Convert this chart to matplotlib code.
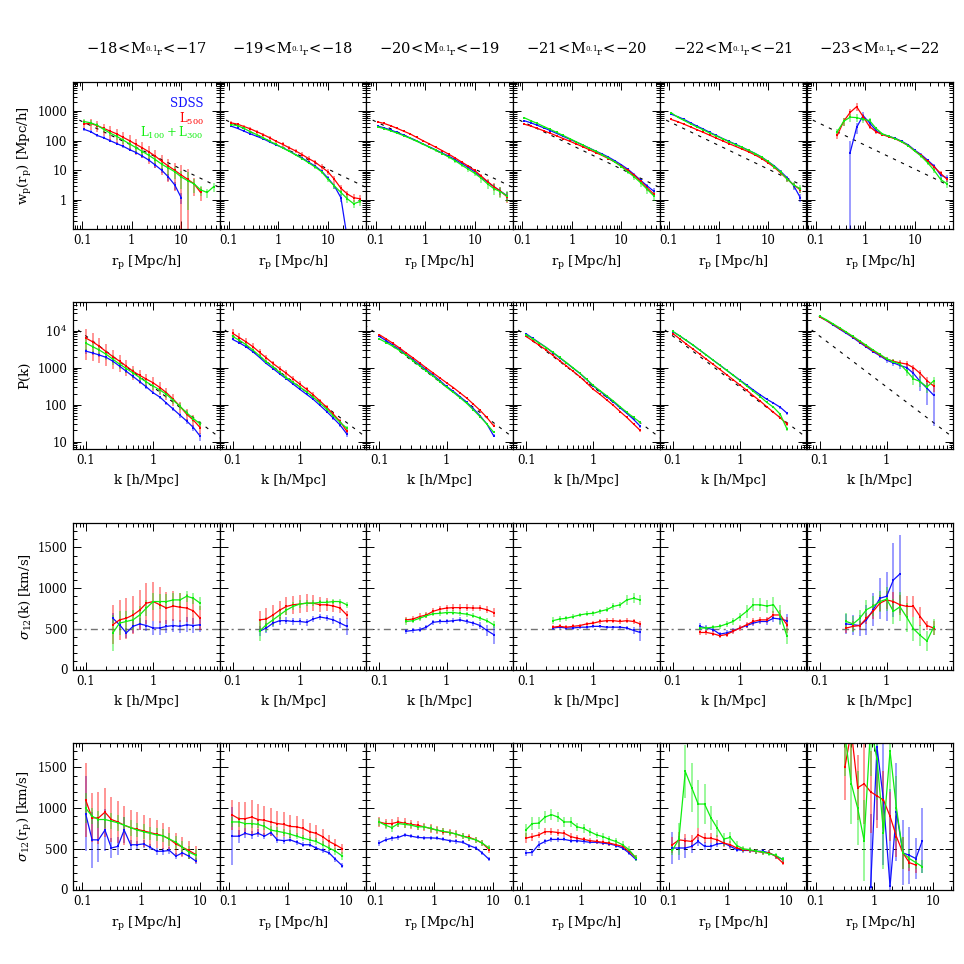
import numpy as np
import matplotlib
matplotlib.use('Agg')
import matplotlib.pyplot as plt
from matplotlib.ticker import FuncFormatter, MultipleLocator, NullFormatter, LogLocator

nan = np.nan

# magnitude bins (one column each)
mag_bins = [(18, 17), (19, 18), (20, 19), (21, 20), (22, 21), (23, 22)]
series_names = ['SDSS', r'$\mathrm{L_{500}}$', r'$\mathrm{L_{100}+L_{300}}$']
series_colors = ['#1010ff', '#ff0000', '#10ee10']

# ---------------- row 1: w_p(r_p) ----------------
rp_w = [0.11, 0.149, 0.201, 0.272, 0.367, 0.496, 0.67, 0.905, 1.22, 1.65, 2.23,
        3.01, 4.07, 5.5, 7.43, 10.0, 13.5, 18.3, 24.7, 33.3, 45.0]

wp_sdss = [
    [240, 200, 150, 125, 100, 80, 65, 50, 40, 30, 22, 15, 10, 6, 3.2, 1.2, nan, nan, nan, nan, nan],
    [310, 260, 210, 170, 140, 115, 90, 72, 58, 45, 34, 26, 19, 14, 9.5, 5.5, 3.0, 1.2, 0.05, nan, nan],
    [310, 270, 230, 190, 155, 125, 100, 78, 62, 49, 38, 30, 23, 17, 12.5, 9, 6, 4, 2.8, 2.0, 1.4],
    [470, 400, 330, 270, 220, 175, 140, 112, 90, 72, 57, 45, 36, 28, 21, 15.5, 11, 7.2, 4.6, 3.0, 2.0],
    [780, 650, 520, 400, 310, 245, 190, 150, 118, 94, 75, 60, 47, 37, 28, 20, 14, 9, 5.5, 3.0, 1.2],
    [nan, nan, nan, nan, nan, 40, 280, 700, 400, 220, 165, 140, 120, 95, 72, 48, 34, 22, 14, 7, 5.5],
]
wp_sdss_rel = [
    [0.1, 0.12, 0.12, 0.12, 0.12, 0.12, 0.13, 0.13, 0.14, 0.15, 0.16, 0.18, 0.2, 0.25, 0.3, 0.4, nan, nan, nan, nan, nan],
    [0.04, 0.04, 0.04, 0.05, 0.05, 0.05, 0.05, 0.06, 0.06, 0.06, 0.07, 0.07, 0.08, 0.09, 0.1, 0.15, 0.2, 0.3, 0.5, nan, nan],
    [0.03, 0.03, 0.03, 0.03, 0.04, 0.04, 0.04, 0.04, 0.05, 0.05, 0.05, 0.06, 0.06, 0.07, 0.08, 0.1, 0.12, 0.15, 0.2, 0.25, 0.3],
    [0.03, 0.03, 0.03, 0.03, 0.03, 0.04, 0.04, 0.04, 0.04, 0.05, 0.05, 0.05, 0.06, 0.06, 0.07, 0.08, 0.1, 0.12, 0.15, 0.2, 0.25],
    [0.04, 0.04, 0.04, 0.04, 0.04, 0.04, 0.05, 0.05, 0.05, 0.05, 0.05, 0.06, 0.06, 0.07, 0.08, 0.1, 0.12, 0.15, 0.2, 0.25, 0.3],
    [nan, nan, nan, nan, nan, 1.5, 0.4, 0.35, 0.3, 0.2, 0.12, 0.1, 0.08, 0.08, 0.08, 0.1, 0.1, 0.12, 0.15, 0.2, 0.25],
]
wp_l500 = [
    [370, 380, 320, 260, 210, 170, 130, 100, 75, 57, 42, 30, 20, 14, 10, 7, 5, 3.5, 1.8, nan, nan],
    [400, 360, 300, 250, 200, 160, 125, 95, 75, 58, 45, 34, 25, 19, 13, 9, 5, 2.5, 1.6, 1.2, 1.1],
    [430, 380, 320, 260, 210, 170, 130, 100, 78, 60, 46, 35, 26, 19, 14, 10, 6.5, 4.2, 2.8, 2.0, 1.3],
    [360, 310, 260, 215, 178, 145, 118, 96, 78, 63, 50, 40, 32, 25, 19, 14, 10, 6.8, 4.3, 2.6, 1.6],
    [520, 440, 360, 290, 235, 190, 152, 122, 98, 79, 64, 52, 42, 33, 25, 18, 12.5, 8, 5, 3.2, 2.2],
    [nan, nan, nan, 150, 450, 900, 1400, 650, 300, 200, 160, 135, 115, 90, 68, 45, 32, 20, 13, 8, 5],
]
wp_l500_rel = [
    [0.35, 0.4, 0.4, 0.45, 0.5, 0.5, 0.5, 0.5, 0.55, 0.55, 0.6, 0.6, 0.65, 0.7, 0.8, 1.1, 1.2, 0.6, 0.5, nan, nan],
    [0.12, 0.12, 0.13, 0.13, 0.14, 0.14, 0.15, 0.15, 0.16, 0.16, 0.17, 0.18, 0.2, 0.2, 0.22, 0.25, 0.3, 0.3, 0.3, 0.3, 0.3],
    [0.04, 0.04, 0.05, 0.05, 0.05, 0.05, 0.06, 0.06, 0.07, 0.07, 0.08, 0.08, 0.09, 0.1, 0.12, 0.15, 0.2, 0.25, 0.3, 0.35, 0.4],
    [0.04, 0.04, 0.04, 0.04, 0.04, 0.05, 0.05, 0.05, 0.05, 0.05, 0.06, 0.06, 0.06, 0.07, 0.08, 0.1, 0.12, 0.15, 0.18, 0.2, 0.22],
    [0.04, 0.04, 0.04, 0.04, 0.05, 0.05, 0.05, 0.05, 0.05, 0.05, 0.06, 0.06, 0.06, 0.07, 0.08, 0.1, 0.12, 0.15, 0.18, 0.2, 0.22],
    [nan, nan, nan, 0.25, 0.3, 0.3, 0.3, 0.25, 0.2, 0.15, 0.1, 0.08, 0.08, 0.08, 0.08, 0.1, 0.1, 0.12, 0.15, 0.18, 0.2],
]
wp_l100 = [
    [440, 400, 330, 240, 180, 140, 105, 78, 58, 43, 32, 23, 16, 12, 9, 6, 4.5, 3.5, 2.2, 1.8, 2.8],
    [350, 320, 260, 200, 160, 125, 95, 75, 57, 44, 33, 25, 18, 13, 9, 5, 3, 1.8, 1.1, 0.75, 0.9],
    [290, 255, 215, 180, 148, 120, 96, 76, 60, 47, 37, 28, 21, 15, 11, 8, 5.5, 3.5, 2.4, 1.9, 1.4],
    [590, 470, 380, 300, 240, 190, 150, 118, 92, 72, 56, 44, 34, 26, 19, 13.5, 9.0, 6.0, 3.8, 2.3, 1.4],
    [880, 620, 480, 370, 290, 230, 180, 145, 115, 92, 74, 59, 47, 37, 28, 20, 13.5, 8.5, 5, 3.2, 2.4],
    [nan, nan, nan, 200, 450, 620, 600, 520, 480, 260, 170, 140, 118, 92, 68, 45, 30, 18, 10, 5, 3.5],
]
wp_l100_rel = [
    [0.2, 0.2, 0.2, 0.2, 0.22, 0.22, 0.24, 0.25, 0.26, 0.28, 0.3, 0.32, 0.35, 0.4, 0.45, 0.6, 0.9, 0.5, 0.4, 0.35, 0.35],
    [0.06, 0.06, 0.06, 0.07, 0.07, 0.07, 0.08, 0.08, 0.08, 0.09, 0.1, 0.1, 0.11, 0.12, 0.14, 0.16, 0.2, 0.25, 0.3, 0.3, 0.3],
    [0.04, 0.04, 0.05, 0.05, 0.05, 0.06, 0.06, 0.07, 0.08, 0.09, 0.1, 0.12, 0.14, 0.16, 0.18, 0.22, 0.3, 0.35, 0.4, 0.4, 0.4],
    [0.04, 0.04, 0.04, 0.04, 0.05, 0.05, 0.05, 0.05, 0.05, 0.06, 0.06, 0.07, 0.07, 0.08, 0.1, 0.12, 0.15, 0.2, 0.25, 0.3, 0.35],
    [0.05, 0.05, 0.05, 0.05, 0.05, 0.05, 0.05, 0.05, 0.06, 0.06, 0.06, 0.07, 0.07, 0.08, 0.1, 0.12, 0.15, 0.18, 0.2, 0.25, 0.3],
    [nan, nan, nan, 0.25, 0.3, 0.3, 0.3, 0.25, 0.2, 0.12, 0.1, 0.08, 0.08, 0.08, 0.08, 0.1, 0.12, 0.15, 0.18, 0.2, 0.25],
]
# power-law reference line (end points)
wp_ref_rp = [0.06, 70.0]
wp_ref_val = [665.0, 2.34]

# ---------------- row 2: P(k) ----------------
k_pk = [0.1, 0.126, 0.158, 0.2, 0.251, 0.316, 0.398, 0.501, 0.631, 0.794, 1.0,
        1.26, 1.58, 2.0, 2.51, 3.16, 3.98, 5.01]

pk_sdss = [
    [2800, 2500, 2200, 1900, 1500, 1100, 800, 580, 420, 300, 210, 160, 110, 75, 52, 36, 24, 14],
    [5800, 4700, 3700, 2700, 1900, 1300, 950, 680, 500, 360, 260, 190, 140, 95, 65, 43, 28, 16],
    [7000, 5400, 4100, 3100, 2250, 1650, 1200, 870, 630, 450, 310, 230, 165, 115, 78, 50, 30, 14.5],
    [8300, 6200, 4700, 3500, 2550, 1850, 1350, 970, 700, 480, 320, 230, 165, 118, 82, 58, 40, 26],
    [9500, 7300, 5500, 4100, 3000, 2200, 1600, 1180, 860, 630, 460, 340, 250, 185, 140, 110, 85, 59],
    [24000, 19000, 14500, 11000, 8500, 6500, 4800, 3600, 2700, 2100, 1600, 1350, 1150, 1000, 700, 420, 280, 180],
]
pk_sdss_rel = [
    [0.15, 0.13, 0.12, 0.11, 0.1, 0.1, 0.1, 0.1, 0.1, 0.1, 0.1, 0.1, 0.1, 0.12, 0.14, 0.16, 0.2, 0.25],
    [0.05, 0.05, 0.05, 0.05, 0.05, 0.05, 0.05, 0.05, 0.05, 0.05, 0.05, 0.05, 0.05, 0.06, 0.07, 0.08, 0.1, 0.15],
    [0.03, 0.03, 0.03, 0.03, 0.03, 0.03, 0.03, 0.03, 0.03, 0.03, 0.03, 0.03, 0.04, 0.04, 0.04, 0.05, 0.06, 0.08],
    [0.03, 0.03, 0.03, 0.03, 0.03, 0.03, 0.03, 0.03, 0.03, 0.03, 0.03, 0.03, 0.04, 0.04, 0.04, 0.05, 0.06, 0.1],
    [0.03, 0.03, 0.03, 0.03, 0.03, 0.03, 0.03, 0.03, 0.03, 0.03, 0.03, 0.04, 0.04, 0.05, 0.05, 0.06, 0.08, 0.1],
    [0.04, 0.04, 0.04, 0.05, 0.05, 0.06, 0.07, 0.08, 0.1, 0.12, 0.15, 0.18, 0.22, 0.3, 0.35, 0.45, 0.65, 0.85],
]
pk_l500 = [
    [6300, 5000, 3800, 2700, 2000, 1500, 1100, 800, 620, 490, 390, 290, 210, 140, 90, 55, 38, 24],
    [8500, 6500, 5000, 3700, 2600, 1850, 1300, 950, 700, 500, 360, 260, 185, 125, 85, 55, 35, 19],
    [7800, 6000, 4600, 3400, 2500, 1850, 1350, 980, 720, 530, 390, 290, 210, 150, 103, 70, 45, 27],
    [7000, 5300, 4000, 3000, 2150, 1550, 1120, 800, 570, 390, 260, 190, 135, 95, 65, 45, 30, 20],
    [8400, 6100, 4400, 3200, 2350, 1700, 1240, 900, 650, 470, 340, 245, 175, 125, 88, 62, 44, 30],
    [24000, 19000, 15000, 11500, 9000, 6800, 5100, 3800, 2900, 2200, 1700, 1500, 1350, 1250, 1000, 700, 450, 320],
]
pk_l500_rel = [
    [0.75, 0.7, 0.65, 0.6, 0.55, 0.5, 0.45, 0.42, 0.4, 0.4, 0.4, 0.38, 0.36, 0.35, 0.35, 0.35, 0.35, 0.35],
    [0.3, 0.3, 0.28, 0.26, 0.24, 0.22, 0.2, 0.2, 0.2, 0.18, 0.18, 0.17, 0.16, 0.15, 0.15, 0.15, 0.15, 0.15],
    [0.04, 0.04, 0.04, 0.04, 0.04, 0.04, 0.04, 0.04, 0.04, 0.04, 0.04, 0.04, 0.04, 0.05, 0.05, 0.05, 0.06, 0.08],
    [0.03, 0.03, 0.03, 0.03, 0.03, 0.03, 0.03, 0.03, 0.03, 0.03, 0.03, 0.03, 0.04, 0.04, 0.04, 0.05, 0.06, 0.08],
    [0.03, 0.03, 0.03, 0.03, 0.03, 0.03, 0.03, 0.03, 0.03, 0.03, 0.03, 0.04, 0.04, 0.05, 0.05, 0.06, 0.08, 0.1],
    [0.04, 0.04, 0.04, 0.05, 0.05, 0.05, 0.06, 0.07, 0.08, 0.1, 0.12, 0.15, 0.18, 0.2, 0.22, 0.25, 0.28, 0.3],
]
pk_l100 = [
    [4600, 3700, 3000, 2300, 1700, 1250, 950, 720, 540, 410, 320, 250, 190, 130, 90, 60, 42, 30],
    [7000, 5500, 4200, 3000, 2100, 1450, 1050, 750, 540, 400, 300, 220, 160, 110, 75, 50, 33, 23],
    [6000, 4800, 3800, 2900, 2150, 1550, 1120, 810, 590, 420, 295, 215, 155, 108, 72, 47, 30, 18],
    [7800, 6000, 4600, 3500, 2600, 1900, 1380, 990, 710, 490, 330, 240, 175, 125, 88, 62, 45, 33],
    [9600, 7300, 5500, 4100, 3000, 2200, 1600, 1170, 850, 620, 450, 320, 230, 165, 115, 85, 55, 22],
    [25000, 20000, 15500, 12000, 9200, 7000, 5300, 4000, 3000, 2300, 1750, 1450, 1250, 800, 500, 420, 300, 440],
]
pk_l100_rel = [
    [0.35, 0.35, 0.33, 0.3, 0.3, 0.28, 0.26, 0.25, 0.24, 0.22, 0.2, 0.2, 0.2, 0.2, 0.2, 0.2, 0.2, 0.2],
    [0.1, 0.1, 0.1, 0.1, 0.1, 0.09, 0.09, 0.09, 0.08, 0.08, 0.08, 0.08, 0.08, 0.08, 0.08, 0.08, 0.1, 0.12],
    [0.04, 0.04, 0.04, 0.04, 0.04, 0.04, 0.04, 0.04, 0.04, 0.04, 0.04, 0.04, 0.04, 0.05, 0.05, 0.05, 0.06, 0.08],
    [0.03, 0.03, 0.03, 0.03, 0.03, 0.03, 0.03, 0.03, 0.03, 0.03, 0.03, 0.03, 0.04, 0.04, 0.04, 0.05, 0.06, 0.1],
    [0.03, 0.03, 0.03, 0.03, 0.03, 0.03, 0.03, 0.03, 0.03, 0.03, 0.03, 0.04, 0.04, 0.05, 0.05, 0.06, 0.08, 0.12],
    [0.04, 0.04, 0.04, 0.05, 0.05, 0.05, 0.06, 0.07, 0.08, 0.1, 0.12, 0.15, 0.18, 0.25, 0.3, 0.3, 0.3, 0.3],
]
pk_ref_k = [0.06, 10.0]
pk_ref_val = [14600.0, 12.5]

# ---------------- row 3: sigma_12(k) ----------------
k_sig = [0.251, 0.316, 0.398, 0.501, 0.631, 0.794, 1.0, 1.26, 1.58, 2.0, 2.51, 3.16, 3.98, 5.01]

sk_sdss = [
    [630, 550, 450, 530, 560, 540, 510, 510, 530, 540, 530, 550, 540, 550],
    [470, 510, 570, 600, 600, 590, 590, 580, 620, 645, 630, 610, 570, 530],
    [470, 480, 490, 520, 580, 590, 590, 600, 610, 590, 570, 540, 480, 430],
    [510, 520, 510, 510, 520, 520, 530, 530, 520, 520, 520, 510, 480, 455],
    [530, 510, 490, 435, 450, 475, 510, 540, 570, 590, 590, 630, 620, 600],
    [560, 550, 540, 610, 735, 875, 900, 1100, 1175, nan, nan, nan, nan, nan],
]
sk_sdss_err = [
    [60, 70, 60, 80, 70, 70, 80, 80, 80, 80, 80, 90, 90, 90],
    [60, 60, 50, 50, 40, 40, 40, 40, 40, 40, 40, 50, 60, 100],
    [30, 30, 30, 30, 30, 30, 30, 30, 30, 30, 30, 40, 70, 120],
    [25, 25, 20, 20, 20, 20, 20, 20, 20, 20, 20, 30, 40, 100],
    [40, 40, 30, 30, 30, 30, 30, 30, 30, 30, 40, 50, 60, 80],
    [120, 120, 130, 180, 200, 250, 300, 450, 480, nan, nan, nan, nan, nan],
]
sk_l500 = [
    [550, 610, 630, 670, 730, 815, 835, 795, 755, 780, 765, 755, 720, 630],
    [610, 620, 670, 730, 775, 795, 805, 815, 815, 795, 795, 780, 755, 670],
    [610, 620, 650, 670, 715, 740, 755, 760, 760, 760, 755, 755, 735, 700],
    [520, 530, 520, 530, 540, 560, 570, 590, 600, 600, 590, 600, 590, 560],
    [455, 455, 440, 415, 430, 470, 510, 550, 590, 610, 610, 670, 670, 550],
    [510, 530, 540, 630, 715, 815, 855, 835, 795, 775, 775, 650, 540, 510],
]
sk_l500_err = [
    [240, 250, 250, 230, 250, 250, 240, 220, 200, 180, 180, 170, 160, 150],
    [110, 130, 120, 110, 110, 110, 110, 110, 100, 90, 80, 70, 60, 50],
    [40, 40, 40, 40, 40, 40, 40, 40, 40, 40, 40, 40, 40, 50],
    [25, 25, 25, 25, 25, 25, 30, 30, 30, 30, 30, 30, 30, 35],
    [30, 30, 30, 30, 30, 30, 35, 35, 40, 40, 40, 50, 60, 100],
    [60, 60, 60, 70, 90, 100, 110, 120, 120, 130, 130, 120, 60, 80],
]
sk_l100 = [
    [450, 570, 590, 610, 670, 755, 835, 835, 835, 855, 855, 900, 875, 815],
    [470, 550, 610, 670, 730, 775, 805, 815, 815, 825, 825, 835, 835, 795],
    [590, 600, 630, 660, 685, 690, 700, 700, 690, 680, 660, 630, 600, 550],
    [600, 620, 630, 650, 670, 685, 690, 715, 735, 775, 795, 855, 875, 855],
    [510, 510, 520, 530, 560, 590, 650, 715, 795, 795, 780, 795, 670, 410],
    [590, 560, 630, 735, 780, 835, 865, 715, 770, 640, 500, 420, 350, 520],
]
sk_l100_err = [
    [220, 150, 130, 120, 110, 100, 100, 90, 90, 80, 80, 70, 70, 80],
    [120, 90, 70, 60, 60, 50, 50, 40, 40, 30, 30, 30, 30, 40],
    [40, 30, 30, 30, 30, 30, 30, 30, 30, 30, 30, 30, 30, 40],
    [40, 40, 30, 30, 30, 30, 30, 30, 30, 40, 40, 60, 60, 60],
    [30, 30, 30, 30, 40, 40, 50, 80, 80, 80, 80, 100, 120, 100],
    [100, 100, 100, 120, 120, 130, 150, 150, 180, 180, 150, 130, 120, 100],
]

# ---------------- row 4: sigma_12(r_p) ----------------
rp_sig = [0.115, 0.148, 0.19, 0.245, 0.315, 0.405, 0.52, 0.67, 0.865, 1.11, 1.43,
          1.85, 2.38, 3.06, 3.95, 5.1, 6.55, 8.6]

sr_sdss = [
    [930, 610, 610, 730, 510, 530, 730, 550, 550, 560, 520, 470, 470, 480, 410, 450, 410, 350],
    [655, 655, 690, 670, 690, 655, 700, 610, 600, 610, 580, 550, 550, 510, 480, 450, 370, 290],
    [570, 610, 630, 640, 670, 655, 640, 635, 635, 630, 615, 600, 590, 580, 540, 510, 450, 370],
    [450, 455, 550, 590, 615, 615, 615, 600, 600, 590, 580, 580, 570, 560, 540, 510, 450, 370],
    [510, 510, 510, 530, 590, 530, 530, 560, 570, 530, 490, 480, 480, 470, 470, 450, 410, 370],
    [nan, nan, nan, nan, nan, nan, nan, nan, 30, 1750, 1100, 40, 950, 450, 420, 380, 600, nan],
]
sr_sdss_err = [
    [460, 340, 270, 260, 120, 110, 160, 60, 50, 50, 40, 40, 40, 40, 40, 40, 40, 40],
    [360, 80, 60, 50, 50, 40, 40, 40, 40, 30, 30, 30, 30, 30, 30, 30, 30, 30],
    [40, 30, 30, 30, 30, 25, 25, 25, 25, 25, 25, 25, 25, 25, 25, 25, 25, 25],
    [40, 40, 40, 30, 30, 30, 25, 25, 25, 25, 25, 25, 25, 25, 25, 25, 25, 25],
    [200, 150, 120, 80, 60, 50, 40, 40, 40, 30, 30, 30, 30, 30, 30, 30, 30, 30],
    [nan, nan, nan, nan, nan, nan, nan, nan, 900, 900, 800, 1200, 600, 400, 350, 250, 400, nan],
]
sr_l500 = [
    [1100, 880, 880, 950, 860, 830, 790, 760, 740, 720, 700, 680, 660, 620, 560, 520, 480, 430],
    [915, 870, 870, 890, 860, 850, 830, 810, 800, 775, 770, 750, 710, 690, 650, 590, 550, 500],
    [830, 810, 810, 830, 815, 800, 790, 770, 750, 730, 710, 700, 680, 655, 640, 610, 570, 490],
    [630, 650, 670, 710, 710, 700, 690, 650, 630, 615, 600, 590, 580, 570, 550, 530, 470, 390],
    [550, 610, 600, 590, 670, 630, 630, 610, 570, 550, 510, 490, 480, 470, 455, 450, 410, 330],
    [nan, nan, nan, nan, 1500, 1950, 1250, 1300, 1200, 1150, 1100, 900, 650, 450, 330, 300, nan, nan],
]
sr_l500_err = [
    [450, 300, 320, 300, 280, 260, 240, 220, 210, 200, 180, 170, 160, 150, 130, 120, 110, 100],
    [180, 200, 200, 210, 190, 180, 170, 160, 150, 140, 130, 120, 110, 100, 90, 80, 70, 60],
    [60, 60, 60, 60, 60, 55, 55, 50, 50, 50, 45, 45, 45, 40, 40, 40, 40, 40],
    [60, 50, 40, 40, 40, 40, 40, 40, 35, 35, 30, 30, 30, 30, 30, 30, 30, 30],
    [100, 100, 80, 80, 80, 60, 60, 60, 50, 40, 40, 30, 30, 30, 30, 30, 30, 30],
    [nan, nan, nan, nan, 400, 600, 400, 500, 500, 400, 350, 300, 250, 200, 100, 100, nan, nan],
]
sr_l100 = [
    [1000, 900, 860, 860, 840, 820, 790, 760, 730, 710, 690, 670, 660, 620, 580, 520, 460, 420],
    [830, 830, 810, 810, 800, 775, 730, 715, 700, 680, 655, 630, 610, 590, 550, 510, 470, 410],
    [830, 790, 760, 810, 800, 790, 770, 770, 750, 730, 715, 700, 680, 655, 630, 610, 570, 510],
    [730, 810, 815, 890, 920, 890, 830, 830, 770, 750, 710, 670, 650, 615, 590, 550, 490, 390],
    [480, 620, 1450, 1250, 1050, 1050, 880, 750, 620, 640, 540, 500, 490, 470, 460, 440, 420, 370],
    [nan, nan, nan, nan, 1900, 1300, 1000, 600, 2000, 1600, 700, 1700, 1000, 450, 380, 330, 280, nan],
]
sr_l100_err = [
    [180, 100, 100, 100, 100, 100, 100, 100, 90, 90, 80, 80, 80, 80, 80, 80, 80, 80],
    [60, 60, 60, 50, 50, 50, 50, 50, 45, 45, 40, 40, 40, 40, 40, 40, 40, 50],
    [50, 50, 50, 40, 40, 40, 40, 40, 40, 35, 35, 35, 35, 35, 35, 35, 35, 40],
    [80, 80, 70, 70, 70, 60, 60, 60, 50, 50, 50, 40, 40, 40, 40, 40, 40, 40],
    [60, 200, 330, 300, 300, 250, 150, 100, 80, 70, 50, 40, 30, 30, 30, 30, 30, 30],
    [nan, nan, nan, nan, 500, 500, 450, 500, 600, 500, 450, 500, 400, 200, 120, 80, 80, nan],
]

plt.rcParams['font.family'] = 'serif'
plt.rcParams['font.serif'] = ['DejaVu Serif']
plt.rcParams['mathtext.fontset'] = 'dejavuserif'

W = 964.0
fig = plt.figure(figsize=(9.64, 9.64), dpi=100)

row_tops = [82, 302, 523, 743]
pw, ph = 146.7, 146.5


def fmt_log(v, pos):
    if v >= 9999:
        return r'$10^{%d}$' % int(round(np.log10(v)))
    return '%g' % v


def draw_series(ax, x, vals, errs, rel):
    for y, e, c in zip(vals, errs, series_colors):
        y = np.array(y, float)
        e = np.array(e, float)
        if rel:
            e = e * y
        ok = ~np.isnan(y)
        line, caps, bars = ax.errorbar(np.array(x)[ok], y[ok], yerr=e[ok], color=c, lw=0.9,
                                       marker='s', ms=1.8, mew=0, capsize=1.6, capthick=0.9,
                                       elinewidth=1.3)
        for b in bars:
            b.set_alpha(0.45)


rows = [
    dict(x=rp_w, vals=[wp_sdss, wp_l500, wp_l100], errs=[wp_sdss_rel, wp_l500_rel, wp_l100_rel],
         rel=True, log=True, xlim=(0.065, 60), ylim=(0.11, 9500),
         xlabel=r'$\mathrm{r_p}$ [Mpc/h]', ylabel=r'$\mathrm{w_p(r_p)}$ [Mpc/h]'),
    dict(x=k_pk, vals=[pk_sdss, pk_l500, pk_l100], errs=[pk_sdss_rel, pk_l500_rel, pk_l100_rel],
         rel=True, log=True, xlim=(0.064, 9.8), ylim=(6.5, 6e4),
         xlabel='k [h/Mpc]', ylabel='P(k)'),
    dict(x=k_sig, vals=[sk_sdss, sk_l500, sk_l100], errs=[sk_sdss_err, sk_l500_err, sk_l100_err],
         rel=False, log=False, xlim=(0.064, 9.8), ylim=(0, 1800),
         xlabel='k [h/Mpc]', ylabel=r'$\sigma_{12}$(k) [km/s]'),
    dict(x=rp_sig, vals=[sr_sdss, sr_l500, sr_l100], errs=[sr_sdss_err, sr_l500_err, sr_l100_err],
         rel=False, log=False, xlim=(0.07, 22), ylim=(0, 1800),
         xlabel=r'$\mathrm{r_p}$ [Mpc/h]', ylabel=r'$\sigma_{12}(\mathrm{r_p})$ [km/s]'),
]

for i, r in enumerate(rows):
    top = row_tops[i]
    for j in range(6):
        left = 73 + pw * j
        ax = fig.add_axes([left / W, 1 - (top + ph) / W, pw / W, ph / W])
        ax.set_xscale('log')
        if r['log']:
            ax.set_yscale('log')

        # reference lines
        if i == 0:
            ax.plot(wp_ref_rp, wp_ref_val, color='k', lw=0.8, ls=(0, (3, 5)))
        elif i == 1:
            ax.plot(pk_ref_k, pk_ref_val, color='k', lw=0.8, ls=(0, (3, 5)))
        elif i == 2:
            ax.axhline(500, color='0.45', lw=1.0, ls=(0, (5, 3, 1.5, 3)))
        else:
            ax.axhline(500, color='k', lw=0.7, ls=(0, (4, 4)))

        draw_series(ax, r['x'], [v[j] for v in r['vals']], [e[j] for e in r['errs']], r['rel'])

        ax.set_xlim(*r['xlim'])
        ax.set_ylim(*r['ylim'])
        ax.xaxis.set_major_locator(LogLocator(base=10))
        ax.xaxis.set_major_formatter(FuncFormatter(fmt_log))
        ax.xaxis.set_minor_formatter(NullFormatter())
        if r['log']:
            ax.yaxis.set_major_locator(LogLocator(base=10))
            ax.yaxis.set_major_formatter(FuncFormatter(fmt_log))
            ax.yaxis.set_minor_formatter(NullFormatter())
        else:
            ax.yaxis.set_major_locator(MultipleLocator(500))
            ax.yaxis.set_minor_locator(MultipleLocator(100))
        ax.tick_params(which='both', direction='in', top=True, right=True, width=0.7,
                       labelsize=8.5, pad=4)
        ax.tick_params(which='major', length=6)
        ax.tick_params(which='minor', length=3)
        if j > 0:
            ax.tick_params(labelleft=False)
        for s in ax.spines.values():
            s.set_linewidth(0.9)
        ax.set_xlabel(r['xlabel'], fontsize=9.5, labelpad=5)

        if i == 0 and j == 0:
            for n, (name, c) in enumerate(zip(series_names, series_colors)):
                ax.text(0.89, 0.85 - 0.1 * n, name, color=c, fontsize=8.5,
                        ha='right', va='center', transform=ax.transAxes)

    fig.text(25 / W, 1 - (top + ph / 2) / W, r['ylabel'], rotation=90, fontsize=9.5,
             ha='center', va='center')

# column titles: luminosity bins
for j, (lo, hi) in enumerate(mag_bins):
    cx = 73 + pw * (j + 0.5)
    fig.text(cx / W, 1 - 49 / W,
             r'$\mathrm{{-}%d}\!<\!\mathrm{M}_{{}^{0.1}\mathrm{r}}\!<\!\mathrm{{-}%d}$' % (lo, hi),
             fontsize=10.5, ha='center', va='center')

plt.savefig('out.png', dpi=100)
